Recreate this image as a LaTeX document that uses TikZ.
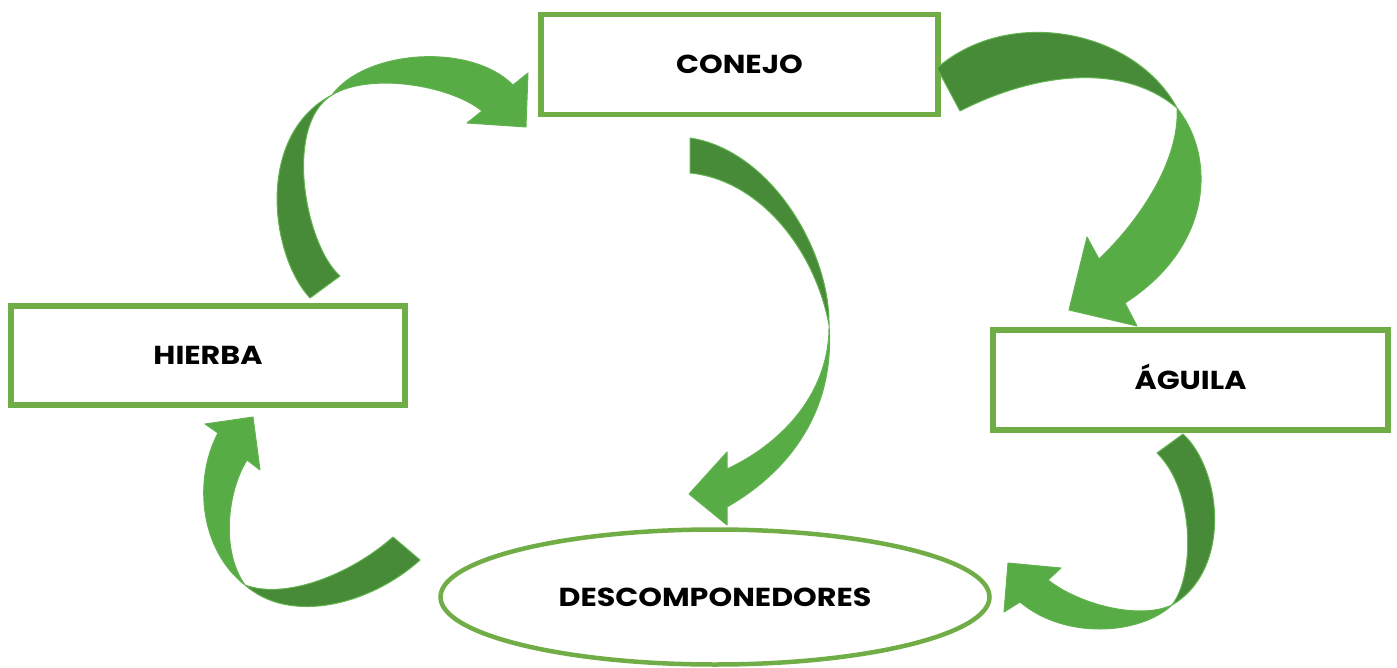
\documentclass[tikz,border=0pt]{standalone}
\usepackage{fontspec}
\newfontfamily\lblfont{Poppins}[FakeStretch=1.16]
\usetikzlibrary{shapes.geometric}
\definecolor{boxgreen}{HTML}{70AD47}
\definecolor{arrlight}{HTML}{58AC45}
\definecolor{arrdark}{HTML}{478A37}
\definecolor{arredge}{HTML}{62B350}
\tikzset{
  lbl/.style={font=\lblfont\bfseries\fontsize{26}{30}\selectfont, text height=18.5pt, text depth=0pt, inner sep=0pt},
  boxnode/.style={lbl, draw=boxgreen, line width=5.5pt, fill=white, rectangle},
  ellnode/.style={lbl, draw=boxgreen, line width=4.5pt, fill=white, ellipse},
  lightpart/.style={fill=arrlight, draw=arredge, line width=1pt, line join=round},
  darkpart/.style={fill=arrdark, draw=arredge, line width=1pt, line join=round}
}
\begin{document}
\begin{tikzpicture}[x=1pt,y=-1pt]
\useasboundingbox (0,0) rectangle (1397,668);

\node[boxnode, minimum width=397pt, minimum height=100pt] (conejo) at (739.5,64.5) {CONEJO};
\node[boxnode, minimum width=394pt, minimum height=99pt] (hierba) at (208,355.5) {HIERBA};
\node[boxnode, minimum width=395pt, minimum height=100pt] (aguila) at (1190.5,380) {ÁGUILA};
\node[ellnode, minimum width=549pt, minimum height=135pt] (desc) at (715,597) {DESCOMPONEDORES};

% Arrow 1: HIERBA -> CONEJO
\path[darkpart] (310,298) -- (340,276) .. controls (305,245) and (283,125) .. (332,95)
  .. controls (255,135) and (270,255) .. (310,298) -- cycle;
\path[lightpart] (332,95) .. controls (365,50) and (470,42) .. (513,85)
  -- (528,73) -- (526,127) -- (467,123) -- (482,111)
  .. controls (450,85) and (370,72) .. (332,95) -- cycle;

% Arrow 2: CONEJO -> AGUILA
\path[darkpart] (937,68) -- (960,111) .. controls (1030,75) and (1120,60) .. (1177,108)
  .. controls (1135,30) and (1010,5) .. (937,68) -- cycle;
\path[lightpart] (1177,108) .. controls (1215,155) and (1215,245) .. (1125,303)
  -- (1137,326) -- (1069,310) -- (1087,237) -- (1099,259)
  .. controls (1140,220) and (1180,160) .. (1177,108) -- cycle;

% Arrow 3: CONEJO -> DESCOMPONEDORES
\path[darkpart] (690,138) -- (690,173) .. controls (760,180) and (815,250) .. (829,325)
  .. controls (830,250) and (770,150) .. (690,138) -- cycle;
\path[lightpart] (829,325) .. controls (835,405) and (795,468) .. (727,507)
  -- (727,525) -- (689,494) -- (727,452) -- (727,469)
  .. controls (785,442) and (830,390) .. (829,325) -- cycle;

% Arrow 4: DESCOMPONEDORES -> HIERBA
\path[darkpart] (393,537) -- (420,560) .. controls (370,605) and (290,625) .. (245,585)
  .. controls (285,600) and (350,575) .. (393,537) -- cycle;
\path[lightpart] (245,585) .. controls (200,550) and (193,480) .. (218,433)
  -- (205,424) -- (253,417) -- (260,470) -- (247,460)
  .. controls (228,490) and (220,550) .. (245,585) -- cycle;

% Arrow 5: AGUILA -> DESCOMPONEDORES
\path[darkpart] (1157,453) -- (1183,434) .. controls (1222,470) and (1232,570) .. (1172,605)
  .. controls (1195,575) and (1195,490) .. (1157,453) -- cycle;
\path[lightpart] (1172,605) .. controls (1140,635) and (1065,640) .. (1020,602)
  -- (1004,612) -- (1008,563) -- (1061,568) -- (1048,580)
  .. controls (1080,605) and (1140,620) .. (1172,605) -- cycle;
\end{tikzpicture}
\end{document}
